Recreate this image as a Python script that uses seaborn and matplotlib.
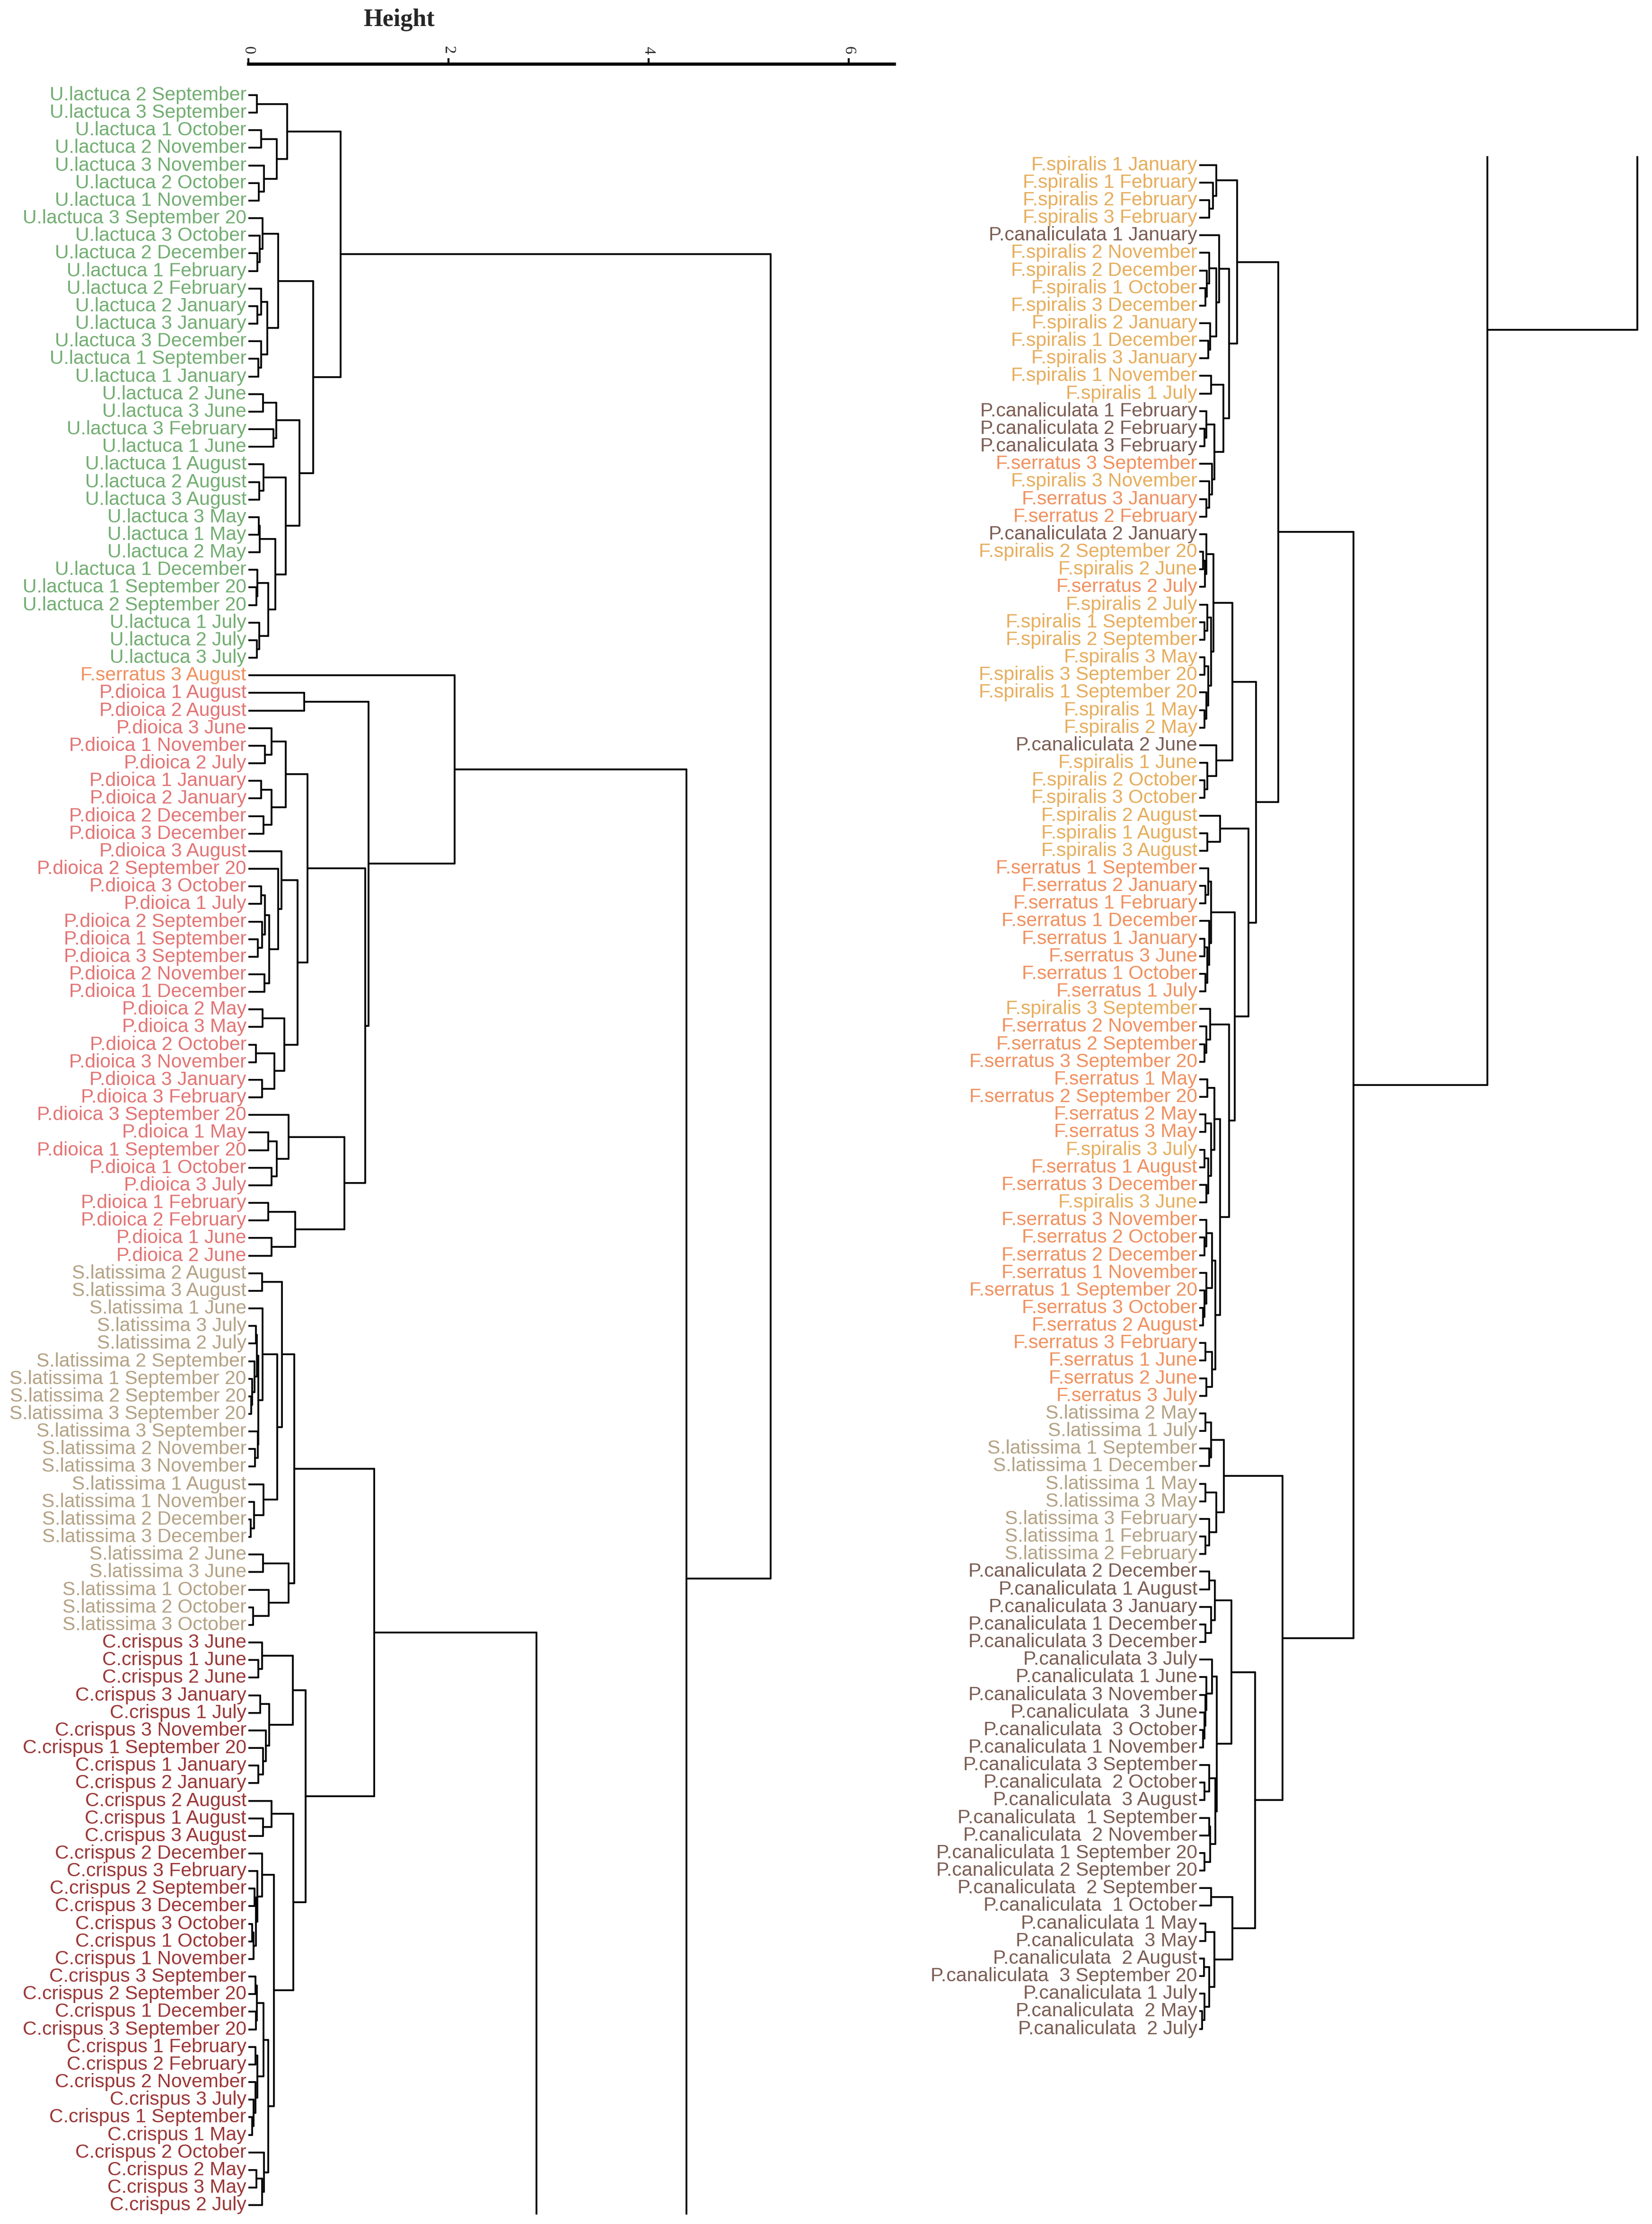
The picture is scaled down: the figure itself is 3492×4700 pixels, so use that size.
import matplotlib
matplotlib.use("Agg")
import matplotlib.pyplot as plt
import seaborn as sns
import pandas as pd

# leaf labels, top to bottom (left column then right column)
u_lactuca = ["U.lactuca 2 September", "U.lactuca 3 September", "U.lactuca 1 October", "U.lactuca 2 November",
             "U.lactuca 3 November", "U.lactuca 2 October", "U.lactuca 1 November", "U.lactuca 3 September 20",
             "U.lactuca 3 October", "U.lactuca 2 December", "U.lactuca 1 February", "U.lactuca 2 February",
             "U.lactuca 2 January", "U.lactuca 3 January", "U.lactuca 3 December", "U.lactuca 1 September",
             "U.lactuca 1 January", "U.lactuca 2 June", "U.lactuca 3 June", "U.lactuca 3 February",
             "U.lactuca 1 June", "U.lactuca 1 August", "U.lactuca 2 August", "U.lactuca 3 August",
             "U.lactuca 3 May", "U.lactuca 1 May", "U.lactuca 2 May", "U.lactuca 1 December",
             "U.lactuca 1 September 20", "U.lactuca 2 September 20", "U.lactuca 1 July", "U.lactuca 2 July",
             "U.lactuca 3 July"]
p_dioica = ["F.serratus 3 August", "P.dioica 1 August", "P.dioica 2 August", "P.dioica 3 June", "P.dioica 1 November",
            "P.dioica 2 July", "P.dioica 1 January", "P.dioica 2 January", "P.dioica 2 December",
            "P.dioica 3 December", "P.dioica 3 August", "P.dioica 2 September 20", "P.dioica 3 October",
            "P.dioica 1 July", "P.dioica 2 September", "P.dioica 1 September", "P.dioica 3 September",
            "P.dioica 2 November", "P.dioica 1 December", "P.dioica 2 May", "P.dioica 3 May", "P.dioica 2 October",
            "P.dioica 3 November", "P.dioica 3 January", "P.dioica 3 February", "P.dioica 3 September 20",
            "P.dioica 1 May", "P.dioica 1 September 20", "P.dioica 1 October", "P.dioica 3 July",
            "P.dioica 1 February", "P.dioica 2 February", "P.dioica 1 June", "P.dioica 2 June"]
s_latissima = ["S.latissima 2 August", "S.latissima 3 August", "S.latissima 1 June", "S.latissima 3 July",
               "S.latissima 2 July", "S.latissima 2 September", "S.latissima 1 September 20",
               "S.latissima 2 September 20", "S.latissima 3 September 20", "S.latissima 3 September",
               "S.latissima 2 November", "S.latissima 3 November", "S.latissima 1 August", "S.latissima 1 November",
               "S.latissima 2 December", "S.latissima 3 December", "S.latissima 2 June", "S.latissima 3 June",
               "S.latissima 1 October", "S.latissima 2 October", "S.latissima 3 October"]
c_crispus = ["C.crispus 3 June", "C.crispus 1 June", "C.crispus 2 June", "C.crispus 3 January", "C.crispus 1 July",
             "C.crispus 3 November", "C.crispus 1 September 20", "C.crispus 1 January", "C.crispus 2 January",
             "C.crispus 2 August", "C.crispus 1 August", "C.crispus 3 August", "C.crispus 2 December",
             "C.crispus 3 February", "C.crispus 2 September", "C.crispus 3 December", "C.crispus 3 October",
             "C.crispus 1 October", "C.crispus 1 November", "C.crispus 3 September", "C.crispus 2 September 20",
             "C.crispus 1 December", "C.crispus 3 September 20", "C.crispus 1 February", "C.crispus 2 February",
             "C.crispus 2 November", "C.crispus 3 July", "C.crispus 1 September", "C.crispus 1 May",
             "C.crispus 2 October", "C.crispus 2 May", "C.crispus 3 May", "C.crispus 2 July"]
fucus = ["F.spiralis 1 January", "F.spiralis 1 February", "F.spiralis 2 February", "F.spiralis 3 February",
         "P.canaliculata 1 January", "F.spiralis 2 November", "F.spiralis 2 December", "F.spiralis 1 October",
         "F.spiralis 3 December", "F.spiralis 2 January", "F.spiralis 1 December", "F.spiralis 3 January",
         "F.spiralis 1 November", "F.spiralis 1 July", "P.canaliculata 1 February", "P.canaliculata 2 February",
         "P.canaliculata 3 February", "F.serratus 3 September", "F.spiralis 3 November", "F.serratus 3 January",
         "F.serratus 2 February", "P.canaliculata 2 January", "F.spiralis 2 September 20", "F.spiralis 2 June",
         "F.serratus 2 July", "F.spiralis 2 July", "F.spiralis 1 September", "F.spiralis 2 September",
         "F.spiralis 3 May", "F.spiralis 3 September 20", "F.spiralis 1 September 20", "F.spiralis 1 May",
         "F.spiralis 2 May", "P.canaliculata 2 June", "F.spiralis 1 June", "F.spiralis 2 October",
         "F.spiralis 3 October", "F.spiralis 2 August", "F.spiralis 1 August", "F.spiralis 3 August",
         "F.serratus 1 September", "F.serratus 2 January", "F.serratus 1 February", "F.serratus 1 December",
         "F.serratus 1 January", "F.serratus 3 June", "F.serratus 1 October", "F.serratus 1 July",
         "F.spiralis 3 September", "F.serratus 2 November", "F.serratus 2 September", "F.serratus 3 September 20",
         "F.serratus 1 May", "F.serratus 2 September 20", "F.serratus 2 May", "F.serratus 3 May",
         "F.spiralis 3 July", "F.serratus 1 August", "F.serratus 3 December", "F.spiralis 3 June",
         "F.serratus 3 November", "F.serratus 2 October", "F.serratus 2 December", "F.serratus 1 November",
         "F.serratus 1 September 20", "F.serratus 3 October", "F.serratus 2 August", "F.serratus 3 February",
         "F.serratus 1 June", "F.serratus 2 June", "F.serratus 3 July"]
s_latissima_2 = ["S.latissima 2 May", "S.latissima 1 July", "S.latissima 1 September", "S.latissima 1 December",
                 "S.latissima 1 May", "S.latissima 3 May", "S.latissima 3 February", "S.latissima 1 February",
                 "S.latissima 2 February"]
p_canaliculata = ["P.canaliculata 2 December", "P.canaliculata 1 August", "P.canaliculata 3 January",
                  "P.canaliculata 1 December", "P.canaliculata 3 December", "P.canaliculata 3 July",
                  "P.canaliculata 1 June", "P.canaliculata 3 November", "P.canaliculata  3 June",
                  "P.canaliculata  3 October", "P.canaliculata 1 November", "P.canaliculata 3 September",
                  "P.canaliculata  2 October", "P.canaliculata  3 August", "P.canaliculata  1 September",
                  "P.canaliculata  2 November", "P.canaliculata 1 September 20", "P.canaliculata 2 September 20",
                  "P.canaliculata  2 September", "P.canaliculata  1 October", "P.canaliculata 1 May",
                  "P.canaliculata  3 May", "P.canaliculata  2 August", "P.canaliculata  3 September 20",
                  "P.canaliculata 1 July", "P.canaliculata  2 May", "P.canaliculata  2 July"]

labels = u_lactuca + p_dioica + s_latissima + c_crispus + fucus + s_latissima_2 + p_canaliculata
n_left = len(u_lactuca + p_dioica + s_latissima + c_crispus)  # 121 leaves in left column

species_colors = {"U.lactuca": "#72ad72", "F.serratus": "#f0905e", "P.dioica": "#e27474",
                  "S.latissima": "#b4a285", "C.crispus": "#9b3636", "F.spiralis": "#e6ad5c",
                  "P.canaliculata": "#7a5c52"}


def N(h, *kids):
    return (h, kids)


# merge heights; leaves are indices into labels
U = N(0.92,
      N(0.39, N(0.087, 0, 1), N(0.285, N(0.13, 2, 3), N(0.157, 4, N(0.104, 5, 6)))),
      N(0.65,
        N(0.296, N(0.142, 7, N(0.115, 8, N(0.092, 9, 10))),
          N(0.19, N(0.13, 11, N(0.092, 12, 13)), N(0.13, 14, N(0.1, 15, 16)))),
        N(0.513, N(0.28, N(0.146, 17, 18), N(0.25, 19, 20)),
          N(0.375, N(0.15, 21, N(0.11, 22, 23)),
            N(0.27, N(0.112, N(0.105, 24, 25), 26),
              N(0.2, N(0.09, 27, N(0.08, 28, 29)), N(0.11, 30, N(0.085, 31, 32))))))))
pA = N(0.374, N(0.23, 36, N(0.167, 37, 38)), N(0.23, N(0.13, 39, 40), N(0.153, 41, 42)))
pB = N(0.33, 43, N(0.296, 44, N(0.21, N(0.167, N(0.13, 45, 46), N(0.138, 47, N(0.095, 48, 49))),
                               N(0.16, 50, 51))))
pC = N(0.36, N(0.14, 52, 53), N(0.26, N(0.078, 54, 55), N(0.138, 56, 57)))
pD = N(0.40, 58, N(0.285, N(0.2, 59, 60), N(0.23, 61, 62)))
pE = N(0.47, N(0.2, 63, 64), N(0.23, 65, 66))
FP = N(2.06, 33, N(1.2, N(0.56, 34, 35), N(1.17, N(0.59, pA, N(0.49, pB, pC)), N(0.96, pD, pE))))

sA = N(0.1, N(0.085, N(0.075, 70, 71), N(0.06, 72, N(0.04, 73, N(0.03, 74, 75)))),
       N(0.095, 76, N(0.068, 77, 78)))
S = N(0.46,
      N(0.336, N(0.137, 67, 68), N(0.287, N(0.14, 69, sA), N(0.15, 79, N(0.058, 80, N(0.023, 81, 82))))),
      N(0.4, N(0.148, 83, 84), N(0.205, 85, N(0.047, 86, 87))))
c1 = N(0.445, N(0.137, 88, N(0.1, 89, 90)),
       N(0.21, N(0.118, 91, 92), N(0.177, 93, N(0.146, 94, N(0.1, 95, 96)))))
c2 = N(0.23, 97, N(0.146, 98, 99))
c3 = N(0.137, 100, N(0.09, 101, N(0.075, N(0.06, 102, 103), N(0.05, N(0.04, 104, 105), 106))))
c4 = N(0.2, N(0.15, N(0.085, N(0.07, 107, 108), N(0.075, 109, 110)),
             N(0.09, N(0.07, 111, 112), N(0.07, 113, N(0.05, 114, N(0.04, 115, 116))))),
       N(0.157, 117, N(0.135, N(0.08, 118, 119), 120)))
SC = N(1.26, S, N(0.57, c1, N(0.45, c2, N(0.256, c3, c4))))

f1 = N(0.171, 121, N(0.136, 122, N(0.1, 123, 124)))
f2 = N(0.2, 125, N(0.17, N(0.1, 126, N(0.075, 127, N(0.06, 128, 129))), N(0.11, 130, N(0.09, 131, 132))))
f3 = N(0.24, N(0.12, 133, 134), N(0.15, N(0.07, 135, N(0.05, 136, 137)),
                                   N(0.13, 138, N(0.1, 139, N(0.07, 140, 141)))))
f4 = N(0.14, N(0.07, 142, N(0.055, N(0.04, 143, 144), 145)),
       N(0.12, N(0.08, 146, N(0.05, 147, 148)), N(0.09, N(0.05, 149, 150), N(0.07, 151, N(0.05, 152, 153)))))
f5 = N(0.17, 154, N(0.08, 155, N(0.05, 156, 157)))
f6 = N(0.21, 158, N(0.08, 159, 160))
f7 = N(0.12, N(0.09, 161, N(0.06, 162, 163)), N(0.1, 164, N(0.08, N(0.05, 165, 166), N(0.06, 167, 168))))
f8 = N(0.11, 169, N(0.07, 170, N(0.05, 171, 172)))
f9 = N(0.15, N(0.08, 173, 174), N(0.12, N(0.06, 175, 176), N(0.09, N(0.05, 177, 178), N(0.07, 179, 180))))
f10 = N(0.16, N(0.13, N(0.07, 181, N(0.05, 182, 183)), N(0.07, 184, N(0.05, 185, N(0.04, 186, 187)))),
        N(0.13, N(0.06, 188, 189), N(0.07, 190, 191)))
F = N(0.79, N(0.38, f1, N(0.3, f2, f3)),
      N(0.566, N(0.33, f4, f5), N(0.49, f6, N(0.355, f7, N(0.3, f8, N(0.21, f9, f10))))))
s2 = N(0.245, N(0.12, N(0.06, 192, 193), N(0.1, 194, 195)),
       N(0.17, N(0.06, 196, 197), N(0.1, 198, N(0.06, 199, 200))))
pc1 = N(0.155, N(0.1, 201, 202), N(0.12, 203, N(0.06, 204, 205)))
pc2 = N(0.13, 206, N(0.07, 207, N(0.06, 208, N(0.05, 209, N(0.04, 210, 211)))))
pc3 = N(0.16, N(0.1, 212, N(0.05, 213, 214)), N(0.11, N(0.1, 215, 216), N(0.05, 217, 218)))
pc4 = N(0.15, N(0.06, 221, 222), N(0.1, N(0.045, 223, 224), N(0.05, 225, N(0.03, 226, 227))))
PC = N(0.56, N(0.32, pc1, N(0.175, pc2, pc3)), N(0.33, N(0.12, 219, 220), pc4))
R = N(1.54, F, N(0.83, s2, PC))

tree = N(5.22, U, N(4.38, FP, N(2.88, SC, R)))

# walk tree -> segments
rows = []


def walk(node):
    if isinstance(node, int):
        return float(node), 0.0
    h, kids = node
    pos = [walk(k) for k in kids]
    for y, hc in pos:
        sid = len(rows)
        rows.append((sid, hc, y))
        rows.append((sid, h, y))
    sid = len(rows)
    rows.append((sid, h, pos[0][0]))
    rows.append((sid, h, pos[-1][0]))
    return (pos[0][0] + pos[-1][0]) / 2, h


walk(tree)
seg = pd.DataFrame(rows, columns=["seg", "height", "leaf"])

sns.set_theme(style="white")
plt.rcParams["font.family"] = ["Liberation Sans", "DejaVu Sans"]

W, H = 1164, 1566.7  # layout in reference display pixels
fig = plt.figure(figsize=(3492 / 300, 4700 / 300), dpi=300)
unit = 70.5  # px per height unit
row = 12.387  # px per leaf

ax1 = fig.add_axes([175 / W, 1 - 1560 / H, (630 - 175) / W, 1515 / H])
ax2 = fig.add_axes([845 / W, 1 - 1560 / H, (W - 845) / W, 1450 / H])

top1 = (45 - 67) / row
ax1.set_ylim(top1 + 1515 / row, top1)
ax1.set_xlim(0, (630 - 175) / unit)
top2 = n_left - 0.5
ax2.set_ylim(top2 + 1450 / row, top2)
ax2.set_xlim(0, (W - 845) / unit)

for ax in (ax1, ax2):
    sns.lineplot(data=seg, x="height", y="leaf", units="seg", estimator=None, sort=False,
                 color="black", linewidth=0.9, ax=ax)
    ax.set_xlabel("")
    ax.set_ylabel("")
    ax.set_yticks([])
    for s in ax.spines.values():
        s.set_visible(False)
    ax.set_facecolor("none")

for i, lab in enumerate(labels):
    ax = ax1 if i < n_left else ax2
    col = species_colors[lab.split(" ")[0]]
    ax.text(-0.02, i, lab, ha="right", va="center", fontsize=9.8, color=col, clip_on=False)

ax1.spines["top"].set_visible(True)
ax1.spines["top"].set_linewidth(1.6)
ax1.spines["top"].set_color("black")
ax1.xaxis.tick_top()
ax1.set_xticks([0, 2, 4, 6])
ax1.set_xticklabels(["0", "2", "4", "6"], rotation=-90, family="Liberation Serif", fontsize=8)
ax1.tick_params(axis="x", top=True, direction="out", length=3, width=1, pad=2, color="black")
ax2.set_xticks([])

fig.text(281 / W, 1 - 14 / H, "Height", ha="center", va="center", fontsize=12.5,
         fontweight="bold", family="Liberation Serif")

fig.savefig("out.png", dpi=300, facecolor="white")
